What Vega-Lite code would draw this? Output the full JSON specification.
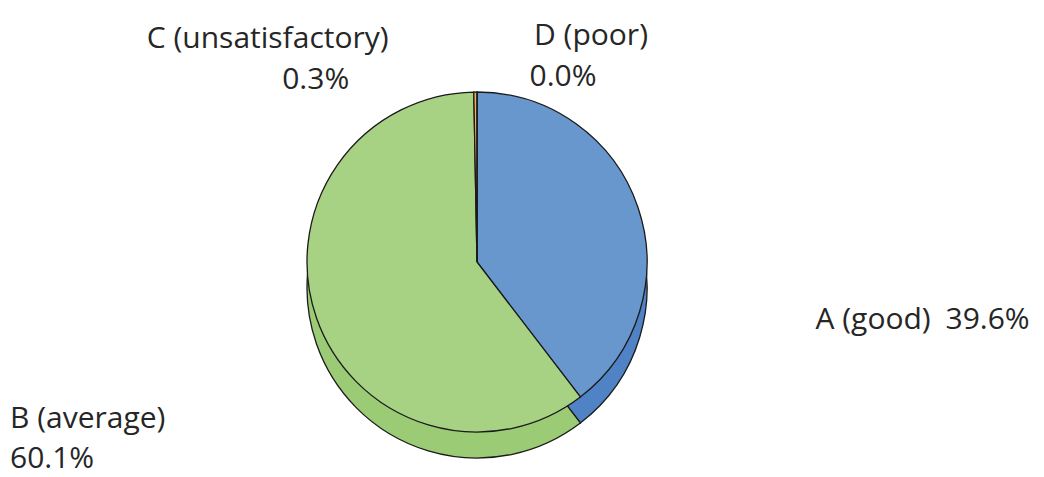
{
  "$schema": "https://vega.github.io/schema/vega-lite/v6.json",
  "width": 954,
  "height": 430,
  "autosize": {"type": "none"},
  "padding": {"left": 0, "right": 90, "top": 47, "bottom": 0},
  "background": "white",
  "config": {"view": {"stroke": null}},
  "data": {
    "values": [
      {"grade": "A", "label": "A (good)", "share": 0.396},
      {"grade": "B", "label": "B (average)", "share": 0.601},
      {"grade": "C", "label": "C (unsatisfactory)", "share": 0.003},
      {"grade": "D", "label": "D (poor)", "share": 0.0}
    ]
  },
  "encoding": {
    "theta": {"field": "share", "type": "quantitative", "stack": true},
    "order": {"field": "grade", "type": "ordinal"}
  },
  "resolve": {"scale": {"color": "independent"}},
  "layer": [
    {
      "mark": {"type": "arc", "outerRadius": 170, "yOffset": 26, "stroke": "#1a1a1a", "strokeWidth": 1.3},
      "encoding": {
        "color": {
          "field": "grade", "type": "nominal", "legend": null,
          "scale": {"domain": ["A", "B", "C", "D"], "range": ["#4F83C5", "#9BCB74", "#E9A24F", "#C9A227"]}
        }
      }
    },
    {
      "mark": {"type": "arc", "outerRadius": 170, "stroke": "#1a1a1a", "strokeWidth": 1.3},
      "encoding": {
        "color": {
          "field": "grade", "type": "nominal", "legend": null,
          "scale": {"domain": ["A", "B", "C", "D"], "range": ["#6897CE", "#A8D283", "#F4B060", "#FFC000"]}
        }
      }
    },
    {
      "transform": [{"filter": "datum.grade == 'A'"}],
      "mark": {"type": "text", "radius": 180, "dx": 168, "dy": 116, "align": "left", "baseline": "middle", "font": "Open Sans", "fontSize": 30, "color": "#262626"},
      "encoding": {"text": {"field": "label"}}
    },
    {
      "transform": [{"filter": "datum.grade == 'A'"}],
      "mark": {"type": "text", "radius": 180, "dx": 298, "dy": 116, "align": "left", "baseline": "middle", "font": "Open Sans", "fontSize": 30, "color": "#262626"},
      "encoding": {"text": {"field": "share", "format": ".1%"}}
    },
    {
      "transform": [{"filter": "datum.grade == 'B'"}],
      "mark": {"type": "text", "radius": 180, "dx": -638, "dy": 101, "align": "left", "baseline": "middle", "font": "Open Sans", "fontSize": 30, "color": "#262626"},
      "encoding": {"text": {"field": "label"}}
    },
    {
      "transform": [{"filter": "datum.grade == 'B'"}],
      "mark": {"type": "text", "radius": 180, "dx": -638, "dy": 141, "align": "left", "baseline": "middle", "font": "Open Sans", "fontSize": 30, "color": "#262626"},
      "encoding": {"text": {"field": "share", "format": ".1%"}}
    },
    {
      "transform": [{"filter": "datum.grade == 'C'"}],
      "mark": {"type": "text", "radius": 180, "dx": -211, "dy": -43, "align": "center", "baseline": "middle", "font": "Open Sans", "fontSize": 30, "color": "#262626"},
      "encoding": {"text": {"field": "label"}}
    },
    {
      "transform": [{"filter": "datum.grade == 'C'"}],
      "mark": {"type": "text", "radius": 180, "dx": -163, "dy": -2, "align": "center", "baseline": "middle", "font": "Open Sans", "fontSize": 30, "color": "#262626"},
      "encoding": {"text": {"field": "share", "format": ".1%"}}
    },
    {
      "transform": [{"filter": "datum.grade == 'D'"}],
      "mark": {"type": "text", "radius": 180, "dx": 114, "dy": -46, "align": "center", "baseline": "middle", "font": "Open Sans", "fontSize": 30, "color": "#262626"},
      "encoding": {"text": {"field": "label"}}
    },
    {
      "transform": [{"filter": "datum.grade == 'D'"}],
      "mark": {"type": "text", "radius": 180, "dx": 86, "dy": -5, "align": "center", "baseline": "middle", "font": "Open Sans", "fontSize": 30, "color": "#262626"},
      "encoding": {"text": {"field": "share", "format": ".1%"}}
    }
  ]
}
